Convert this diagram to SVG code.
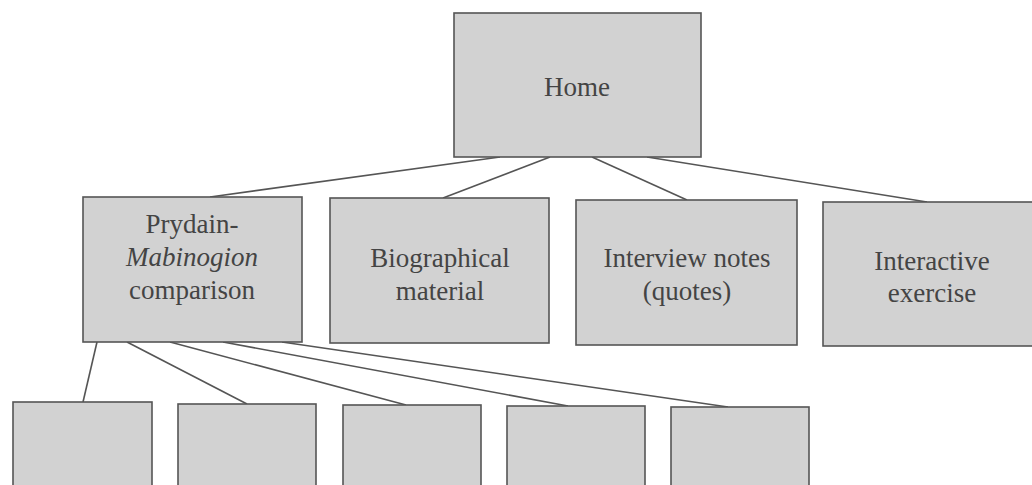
<svg xmlns="http://www.w3.org/2000/svg" width="1032" height="485" viewBox="0 0 1032 485">
<style>
.box{fill:#d2d2d2;stroke:#555;stroke-width:1.6}
.lbl{font-family:"Liberation Serif","Times New Roman",serif;font-size:27px;fill:#444;text-anchor:middle}
.con{stroke:#555;stroke-width:1.6;fill:none}
</style>
<rect width="1032" height="485" fill="#fff"/>
<g id="connectors">
<line class="con" x1="500" y1="157" x2="210" y2="197"/>
<line class="con" x1="550" y1="157" x2="443" y2="198"/>
<line class="con" x1="592" y1="157" x2="687" y2="200"/>
<line class="con" x1="647" y1="157" x2="927" y2="202"/>
<line class="con" x1="97" y1="342" x2="83" y2="402"/>
<line class="con" x1="127" y1="342" x2="247" y2="404"/>
<line class="con" x1="170" y1="342" x2="406" y2="405"/>
<line class="con" x1="223" y1="342" x2="568" y2="406"/>
<line class="con" x1="282" y1="342" x2="728" y2="407"/>
</g>
<g id="home">
<rect class="box" x="454" y="13" width="247" height="144"/>
<text class="lbl" x="577" y="96">Home</text>
</g>
<g id="prydain">
<rect class="box" x="83" y="197" width="219" height="145"/>
<text class="lbl" x="192" y="233">Prydain-</text>
<text class="lbl" x="192" y="266" font-style="italic">Mabinogion</text>
<text class="lbl" x="192" y="299">comparison</text>
</g>
<g id="biographical">
<rect class="box" x="330" y="198" width="219" height="145"/>
<text class="lbl" x="440" y="267">Biographical</text>
<text class="lbl" x="440" y="300">material</text>
</g>
<g id="interview">
<rect class="box" x="576" y="200" width="221" height="145"/>
<text class="lbl" x="687" y="267">Interview notes</text>
<text class="lbl" x="687" y="300">(quotes)</text>
</g>
<g id="interactive">
<rect class="box" x="823" y="202" width="220" height="144"/>
<text class="lbl" x="932" y="270">Interactive</text>
<text class="lbl" x="932" y="302">exercise</text>
</g>
<g id="sub1"><rect class="box" x="13" y="402" width="139" height="100"/></g>
<g id="sub2"><rect class="box" x="178" y="404" width="138" height="100"/></g>
<g id="sub3"><rect class="box" x="343" y="405" width="138" height="100"/></g>
<g id="sub4"><rect class="box" x="507" y="406" width="138" height="100"/></g>
<g id="sub5"><rect class="box" x="671" y="407" width="138" height="100"/></g>
</svg>
